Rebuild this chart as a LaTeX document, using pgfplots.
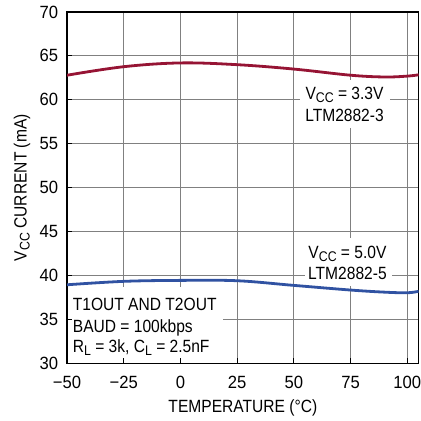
\documentclass[border=0pt]{standalone}
\usepackage{fontspec}
\setmainfont{Liberation Sans}[FakeStretch=0.88]
\newfontfamily\tickfont{Liberation Sans}[FakeStretch=0.94]
\usepackage{pgfplots}
\pgfplotsset{compat=1.18}
\definecolor{cred}{RGB}{150,20,52}
\definecolor{cblue}{RGB}{48,82,162}
\definecolor{cgrid}{RGB}{128,128,128}
\newcommand{\sub}[1]{\raisebox{-3bp}{\fontsize{14bp}{14bp}\selectfont #1}}
\begin{document}
\begin{tikzpicture}[font=\fontsize{17.7bp}{21.5bp}\selectfont]
\begin{axis}[
 scale only axis, width=351.7bp, height=351.3bp,
 xmin=-50, xmax=105, ymin=30, ymax=70,
 xtick={-50,-25,0,25,50,75,100}, xticklabels={−50,−25,0,25,50,75,100},
 ytick={30,35,40,45,50,55,60,65,70}, yticklabels={30,35,40,45,50,55,60,65,70},
 grid=major, major grid style={cgrid, line width=1bp},
 axis line style={black, line width=1.5bp},
 tick style={black, line width=1bp}, major tick length=5bp, tick pos=left, tick align=inside,
 xticklabel style={font=\tickfont\fontsize{17.7bp}{21bp}\selectfont, inner sep=0pt, anchor=north, yshift=-12.4bp},
 yticklabel style={font=\tickfont\fontsize{17.7bp}{21bp}\selectfont, inner sep=0pt, anchor=east, xshift=-8.7bp},
]
\coordinate (sw) at (rel axis cs:0,0);
\coordinate (ne) at (rel axis cs:1,1);
\coordinate (wm) at (rel axis cs:0,0.5);
\coordinate (sm) at (rel axis cs:0.5,0);
\fill[white] (axis cs:52.9,56.79) rectangle (axis cs:92.5,62.26);
\fill[white] (axis cs:54.7,38.8) rectangle (axis cs:93.4,44.26);
\fill[white] (axis cs:-49.5,30.15) rectangle (axis cs:18.6,38.68);
\draw[black, line width=1bp] (axis cs:-25,30) -- (axis cs:-25,30.57);
\draw[black, line width=1bp] (axis cs:0,30) -- (axis cs:0,30.57);
\draw[black, line width=1bp] (axis cs:-50,35) -- (axis cs:-47.8,35);
\addplot[cred, line width=2.8bp, smooth, tension=0.6] coordinates {
(-50,62.8) (-25,63.77) (0,64.2) (25,64.0) (50,63.5) (75,62.8) (90,62.6) (100,62.7) (105,62.85)};
\addplot[cblue, line width=2.8bp, smooth, tension=0.6] coordinates {
(-50,38.94) (-25,39.33) (0,39.44) (25,39.4) (50,38.87) (75,38.34) (90,38.1) (100,38.03) (105,38.2)};
\node[anchor=base, inner sep=0pt] at (axis cs:72.3,59.98) {V\sub{CC} = 3.3V};
\node[anchor=base, inner sep=0pt] at (axis cs:72.3,57.5) {LTM2882-3};
\node[anchor=base, inner sep=0pt] at (axis cs:73.6,41.98) {V\sub{CC} = 5.0V};
\node[anchor=base, inner sep=0pt] at (axis cs:73.6,39.56) {LTM2882-5};
\node[anchor=base west, inner sep=0pt] at (axis cs:-47.5,35.98) {T1OUT AND T2OUT};
\node[anchor=base west, inner sep=0pt] at (axis cs:-47.5,33.53) {BAUD = 100kbps};
\node[anchor=base west, inner sep=0pt] at (axis cs:-47.5,31.20) {R\sub{L} = 3k, C\sub{L} = 2.5nF};
\end{axis}
\node[anchor=base] at ([yshift=-49.4bp]sm) {TEMPERATURE (°C)};
\node[rotate=90, anchor=base] at ([xshift=-40.5bp]wm) {V\sub{CC} CURRENT (mA)};
\pgfresetboundingbox
\path[use as bounding box] ([xshift=-67bp,yshift=-57.7bp]sw) rectangle ([xshift=1.3bp,yshift=12bp]ne);
\end{tikzpicture}
\end{document}
